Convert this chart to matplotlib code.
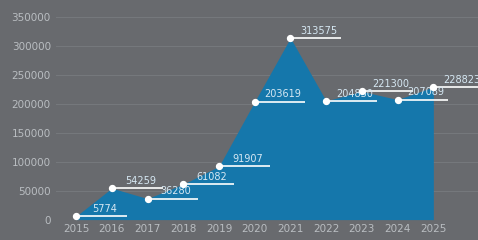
import matplotlib; matplotlib.use('Agg')
import matplotlib.pyplot as plt

years  = [2015, 2016, 2017, 2018, 2019, 2020, 2021, 2022, 2023, 2024, 2025]
values = [5774, 54259, 36280, 61082, 91907, 203619, 313575, 204830, 221300, 207089, 228823]
labels = ['5774', '54259', '36280', '61082', '91907', '203619', '313575',
          '204830', '221300', '207089', '228823']
yticks = [0, 50000, 100000, 150000, 200000, 250000, 300000, 350000]

BG   = '#686a6e'
BLUE = '#1577ab'
TXT  = '#b9bdc1'

fig = plt.figure(figsize=(4.78, 2.40), dpi=100, facecolor=BG)
ax = fig.add_axes([0.118, 0.085, 0.882, 0.845], facecolor=BG)

ax.fill_between(years, values, 0, color=BLUE, lw=0, zorder=2)

# leader lines + labels
seg = 1.42
for x, y, s in zip(years, values, labels):
    ax.plot([x, x + seg], [y, y], color='white', lw=1.2, zorder=3,
            solid_capstyle='butt', clip_on=False)
    ax.text(x + seg * 0.56, y + 4000, s, ha='center', va='bottom',
            fontsize=7, color='#d6e8f3', zorder=4, clip_on=False)
ax.scatter(years, values, s=18, color='white', zorder=5, clip_on=False)

ax.set_xlim(2014.45, 2026.25)
ax.set_ylim(0, 350000)
ax.set_yticks(yticks)
ax.set_yticklabels([str(v) for v in yticks])
ax.set_xticks(years)
ax.tick_params(length=0, colors=TXT, labelsize=7.5, pad=4)
ax.tick_params(axis='x', pad=3)
ax.grid(True, axis='y', color='#75787c', lw=0.8, zorder=1)
for sp in ax.spines.values():
    sp.set_visible(False)

plt.savefig('out.png', dpi=100, facecolor=BG)
